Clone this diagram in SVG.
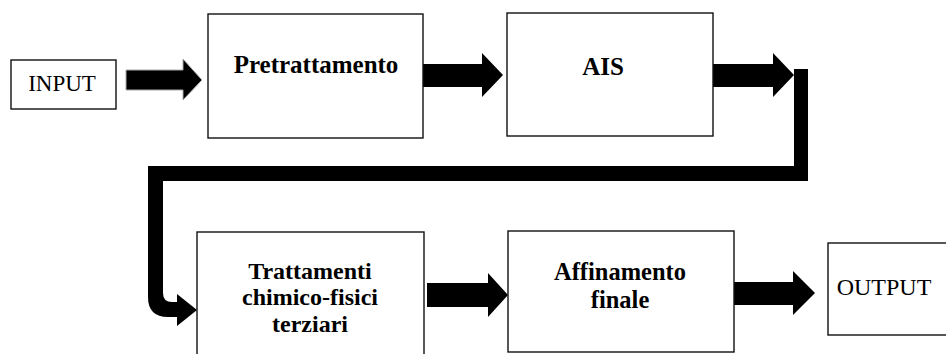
<svg xmlns="http://www.w3.org/2000/svg" width="946" height="354" viewBox="0 0 946 354">
<style>
.box{fill:#fff;stroke:#111;stroke-width:1.4}
.lbl{font-family:"Liberation Serif","Times New Roman",serif;fill:#000;text-anchor:middle}
.b{font-weight:bold}
.arr{fill:#000}
</style>
<rect width="946" height="354" fill="#fff"/>
<g id="connectors">
<path class="arr" d="M126,70 H183 V59 L202,80 L183,100 V90 H126 Z" stroke="#aaa" stroke-width="1"/>
<path class="arr" d="M423,64 H482 V53 L503,75 L482,97 V87 H423 Z"/>
<path class="arr" d="M713,64 H773 V53 L794,75 L773,97 V87 H713 Z"/>
<path class="arr" d="M794,69 H808 V181 H163 V293 Q163,302 172,302 H177 V294 L197,310 L177,326 V317 H168 Q148,317 148,297 V166 H794 Z"/>
<path class="arr" d="M427,283 H488 V273 L508,295 L488,317 V307 H427 Z"/>
<path class="arr" d="M734,282 H793 V271 L815,293 L793,315 V305 H734 Z"/>
</g>
<g id="input">
<rect class="box" x="11" y="60" width="105" height="49"/>
<text class="lbl" x="62" y="91" font-size="23">INPUT</text>
</g>
<g id="pretrattamento">
<rect class="box" x="208" y="14" width="215" height="124"/>
<text class="lbl b" x="316" y="73" font-size="25">Pretrattamento</text>
</g>
<g id="ais">
<rect class="box" x="507" y="13" width="206" height="123"/>
<text class="lbl b" x="603" y="75" font-size="25">AIS</text>
</g>
<g id="trattamenti">
<rect class="box" x="197" y="232" width="227" height="130"/>
<text class="lbl b" x="310" y="279" font-size="24">Trattamenti</text>
<text class="lbl b" x="310" y="305" font-size="24">chimico-fisici</text>
<text class="lbl b" x="310" y="332" font-size="24">terziari</text>
</g>
<g id="affinamento">
<rect class="box" x="508" y="231" width="226" height="121"/>
<text class="lbl b" x="620" y="280" font-size="24.5">Affinamento</text>
<text class="lbl b" x="620" y="308" font-size="24.5">finale</text>
</g>
<g id="output">
<rect class="box" x="828" y="243" width="125" height="92"/>
<text class="lbl" x="884" y="295" font-size="24">OUTPUT</text>
</g>
</svg>
